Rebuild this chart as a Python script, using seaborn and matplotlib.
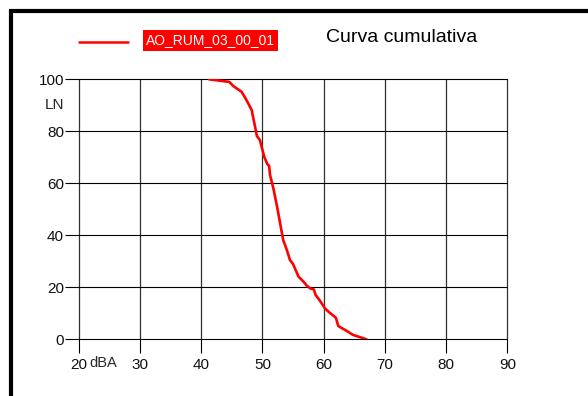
import matplotlib
matplotlib.use('Agg')
import matplotlib.pyplot as plt
from matplotlib.lines import Line2D
from matplotlib.patches import Rectangle
import pandas as pd
import seaborn as sns

# cumulative curve
dba = [41.3, 44.6, 45.25, 46.6, 47.4, 48.25, 48.7, 49.1, 49.6, 50.3, 50.8, 51.1,
       51.25, 51.8, 52.4, 52.9, 53.4, 54.0, 54.5, 55.0, 55.9, 56.7, 57.3, 57.8,
       58.4, 58.7, 59.1, 59.7, 60.2, 61.0, 62.0, 62.4, 63.5, 64.8, 67.0]
ln = [100, 99, 97.4, 95.2, 92, 88.2, 83, 78.2, 76.6, 70.2, 67.4, 66.7,
      63.2, 58, 51, 44.6, 38.2, 34.3, 30.5, 29, 24.1, 22.2, 20.5, 19.6,
      19.2, 17, 15.8, 13.8, 11.9, 10.2, 8.3, 5.1, 3.6, 1.7, 0]
series_name = 'AO_RUM_03_00_01'
x_ticks = [20, 30, 40, 50, 60, 70, 80, 90]
y_ticks = [0, 20, 40, 60, 80, 100]

df = pd.DataFrame({'dBA': dba, 'LN': ln})

sns.set_theme(style='white')
plt.rcParams['font.family'] = ['Liberation Sans', 'DejaVu Sans']

fig = plt.figure(figsize=(5.88, 3.96), dpi=100)
ax = fig.add_axes([78.7 / 588, 1 - 339.3 / 396, 428.6 / 588, 260 / 396])

sns.lineplot(data=df, x='dBA', y='LN', color='red', lw=1.9, sort=False,
             estimator=None, ax=ax, zorder=5)

ax.set_xlim(20, 90)
ax.set_ylim(0, 100)
ax.set_xticks(x_ticks)
ax.set_yticks(y_ticks)
ax.set_xlabel('')
ax.set_ylabel('')
for s in ax.spines.values():
    s.set_visible(False)

ax.grid(True)
for gl in ax.get_xgridlines():
    gl.set_color('#303030')
    gl.set_linewidth(0.9)
    gl.set_clip_on(False)
for gl in ax.get_ygridlines():
    gl.set_color('black')
    gl.set_linewidth(0.8)
    gl.set_clip_on(False)

ax.tick_params(axis='both', direction='out', length=10, width=0.8, color='black',
               labelsize=11, labelcolor='#111111')
ax.tick_params(axis='y', pad=0.5, left=True)
ax.tick_params(axis='x', pad=3.5, bottom=True)

ax.text(16.05, 90, 'LN', fontsize=11, ha='center', va='center', clip_on=False)
ax.text(24.0, -6.6, 'dBA', fontsize=10.5, ha='center', va='top', clip_on=False)

# legend sample and title
fig.add_artist(Line2D([79 / 588, 128 / 588], [1 - 42 / 396, 1 - 42 / 396],
                      color='red', lw=1.8))
fig.text(210.5 / 588, 1 - 40.5 / 396, series_name, color='white', fontsize=10,
         ha='center', va='center',
         bbox=dict(facecolor='red', edgecolor='none', pad=2.5))
fig.text(402 / 588, 1 - 37 / 396, 'Curva cumulativa', fontsize=14,
         ha='center', va='center', color='black')

# outer frame, cut off on the right and bottom
fig.add_artist(Rectangle((11 / 588, -0.1), 1.0, 1.1 - 10.5 / 396,
                         transform=fig.transFigure, fill=False,
                         edgecolor='black', lw=3))

fig.savefig('out.png', dpi=100)
